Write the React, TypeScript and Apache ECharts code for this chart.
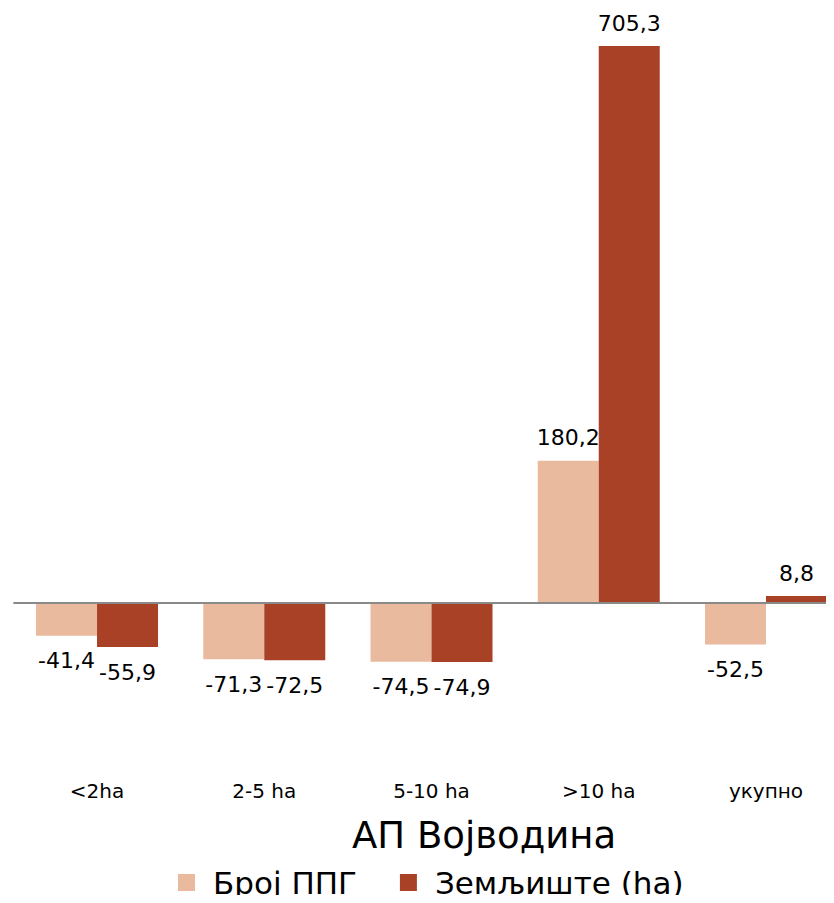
import React, { useEffect, useRef } from "react";
import * as echarts from "echarts";

const categories = ["<2ha", "2-5 ha", "5-10 ha", ">10 ha", "укупно"];
const seriesNames = ["Број ППГ", "Земљиште (ha)"];
const brojPPG = [-41.4, -71.3, -74.5, 180.2, -52.5];
const zemljiste = [-55.9, -72.5, -74.9, 705.3, 8.8];
const colors = ["#EABA9E", "#A94127"];
const chartTitle = "АП Војводина";

const FONT = "DejaVu Sans";

function toData(values: number[]) {
  return values.map((v) => ({
    value: v,
    label: {
      position: v < 0 ? "bottom" : "top",
      distance: v < 0 ? 14 : 12,
    },
  }));
}

export default function App() {
  const ref = useRef<HTMLDivElement>(null);
  useEffect(() => {
    if (!ref.current) return;
    const chart = echarts.init(ref.current, null, { renderer: "svg" });
    const fmt = (p: any) => String(p.value).replace(".", ",");
    const labelBase = {
      show: true,
      fontFamily: FONT,
      fontSize: 22,
      color: "#000",
      formatter: fmt,
    };
    chart.setOption({
      animation: false,
      backgroundColor: "#fff",
      title: {
        text: chartTitle,
        left: 347,
        top: 812,
        textStyle: { fontFamily: FONT, fontSize: 37, fontWeight: "normal", color: "#000" },
      },
      legend: {
        data: seriesNames,
        left: 173,
        top: 862,
        icon: "rect",
        itemWidth: 17,
        itemHeight: 17,
        itemGap: 43,
        textStyle: { fontFamily: FONT, fontSize: 31, color: "#000", padding: [0, 0, 0, 13] },
      },
      grid: {
        left: 13.4,
        right: -15.6,
        top: 34.4,
        bottom: 126.3,
        containLabel: false,
        outerBoundsMode: "none",
      },
      xAxis: {
        type: "category",
        data: categories,
        axisLine: { show: false },
        axisTick: { show: false },
        axisLabel: { fontFamily: FONT, fontSize: 20, color: "#000", margin: 4 },
      },
      yAxis: {
        type: "value",
        min: -220,
        max: 720,
        show: false,
        splitLine: { show: false },
      },
      series: [
        {
          name: seriesNames[0],
          type: "bar",
          data: toData(brojPPG),
          itemStyle: { color: colors[0] },
          barWidth: 61,
          barGap: "0%",
          label: labelBase,
          markLine: {
            silent: true,
            symbol: ["none", "none"],
            label: { show: false },
            lineStyle: { color: "#898989", width: 2, type: "solid" },
            data: [{ yAxis: 0 }],
          },
        },
        {
          name: seriesNames[1],
          type: "bar",
          data: toData(zemljiste),
          itemStyle: { color: colors[1] },
          barWidth: 61,
          barGap: "0%",
          label: labelBase,
        },
      ],
    });
    return () => chart.dispose();
  }, []);
  return <div ref={ref} style={{ width: 834, height: 903, margin: -8 }} />;
}
